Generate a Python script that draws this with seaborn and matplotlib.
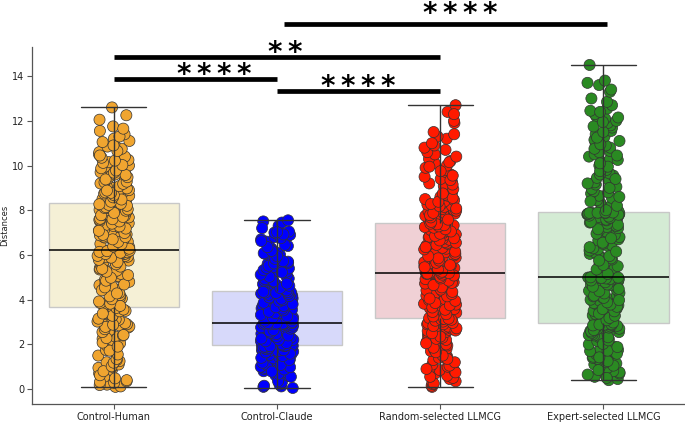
import matplotlib
matplotlib.use("Agg")
import matplotlib.pyplot as plt
import numpy as np
import pandas as pd
import seaborn as sns

# group names as shown on the x axis
groups = ["Control-Human", "Control-Claude", "Random-selected LLMCG", "Expert-selected LLMCG"]

# distances (one list per group, plus a second batch)
control_human = [
    0.1, 0.12, 0.2, 0.28, 0.35, 0.4, 0.5, 0.55, 0.7, 0.85,
    0.95, 1.0, 1.1, 1.2, 1.25, 1.3, 1.5, 1.6, 1.75, 1.8,
    1.95, 2.05, 2.2, 2.25, 2.35, 2.4, 2.5, 2.6, 2.65, 2.75,
    2.8, 2.85, 2.9, 2.95, 3.0, 3.05, 3.1, 3.12, 3.18, 3.2,
    3.25, 3.3, 3.35, 3.4, 3.45, 3.5, 3.55, 3.58, 3.62, 3.65,
    3.7, 3.75, 3.8, 3.85, 3.9, 3.95, 4.0, 4.05, 4.1, 4.2,
    4.25, 4.3, 4.4, 4.45, 4.5, 4.6, 4.65, 4.7, 4.8, 4.9,
    5.0, 5.05, 5.15, 5.2, 5.3, 5.35, 5.4, 5.45, 5.5, 5.55,
    5.6, 5.65, 5.7, 5.75, 5.8, 5.82, 5.85, 5.9, 5.92, 5.95,
    6.0, 6.02, 6.05, 6.08, 6.1, 6.12, 6.15, 6.16, 6.18, 6.2,
    6.22, 6.25, 6.3, 6.35, 6.4, 6.45, 6.5, 6.55, 6.6, 6.62,
    6.68, 6.72, 6.78, 6.82, 6.88, 6.92, 6.95, 7.0, 7.05, 7.1,
    7.15, 7.2, 7.25, 7.3, 7.35, 7.38, 7.42, 7.48, 7.52, 7.58,
    7.62, 7.68, 7.72, 7.75, 7.8, 7.85, 7.9, 7.95, 8.0, 8.02,
    8.05, 8.1, 8.12, 8.15, 8.18, 8.2, 8.22, 8.25, 8.28, 8.3,
    8.35, 8.4, 8.45, 8.5, 8.55, 8.6, 8.65, 8.7, 8.75, 8.8,
    8.85, 8.9, 8.95, 9.0, 9.05, 9.1, 9.15, 9.2, 9.25, 9.3,
    9.35, 9.4, 9.5, 9.55, 9.6, 9.7, 9.75, 9.8, 9.9, 9.95,
    10.0, 10.1, 10.15, 10.25, 10.3, 10.4, 10.5, 10.6, 10.75, 10.85,
    10.95, 11.05, 11.1, 11.2, 11.4, 11.55, 11.75, 12.05, 12.25, 12.6,
]
control_human_b = [
    0.18, 0.32, 0.48, 0.62, 0.8, 1.02, 1.18, 1.35, 1.55, 1.72, 1.9, 2.08, 2.28,
    2.42, 2.55, 2.68, 2.78, 2.88, 3.02, 3.15, 3.28, 3.38, 3.48, 3.56, 3.63,
    3.72, 3.82, 3.92, 4.02, 4.15, 4.28, 4.42, 4.55, 4.68, 4.85, 4.98, 5.1, 5.25,
    5.38, 5.48, 5.58, 5.68, 5.78, 5.88, 5.96, 6.04, 6.1, 6.14, 6.17, 6.19,
    6.28, 6.38, 6.48, 6.58, 6.7, 6.8, 6.9, 6.98, 7.08, 7.18, 7.28, 7.4, 7.5,
    7.6, 7.7, 7.78, 7.88, 7.98, 8.04, 8.1, 8.14, 8.2, 8.24, 8.27, 8.29,
    8.38, 8.48, 8.58, 8.68, 8.78, 8.88, 8.98, 9.08, 9.18, 9.28, 9.38, 9.48, 9.58,
    9.68, 9.78, 9.88, 10.02, 10.12, 10.22, 10.35, 10.45, 10.65, 10.9, 11.3, 11.65,
]
control_claude = [
    0.05, 0.1, 0.12, 0.2, 0.3, 0.42, 0.5, 0.58, 0.62, 0.7,
    0.75, 0.8, 0.86, 0.9, 0.95, 1.0, 1.05, 1.1, 1.15, 1.2,
    1.25, 1.28, 1.32, 1.38, 1.42, 1.45, 1.5, 1.52, 1.55, 1.6,
    1.62, 1.65, 1.68, 1.7, 1.72, 1.75, 1.78, 1.8, 1.82, 1.84,
    1.85, 1.87, 1.88, 1.9, 1.91, 1.92, 1.93, 1.94, 1.95, 1.96,
    1.98, 2.0, 2.02, 2.05, 2.08, 2.1, 2.12, 2.15, 2.18, 2.2,
    2.22, 2.25, 2.28, 2.3, 2.32, 2.35, 2.38, 2.4, 2.42, 2.45,
    2.48, 2.5, 2.52, 2.55, 2.58, 2.6, 2.62, 2.65, 2.68, 2.7,
    2.72, 2.74, 2.76, 2.78, 2.8, 2.82, 2.84, 2.86, 2.88, 2.89,
    2.9, 2.91, 2.92, 2.92, 2.93, 2.93, 2.94, 2.94, 2.95, 2.95,
    2.97, 3.0, 3.02, 3.05, 3.08, 3.1, 3.13, 3.15, 3.18, 3.2,
    3.23, 3.25, 3.28, 3.3, 3.33, 3.36, 3.38, 3.41, 3.44, 3.47,
    3.5, 3.53, 3.55, 3.58, 3.61, 3.64, 3.67, 3.7, 3.72, 3.75,
    3.78, 3.81, 3.84, 3.87, 3.9, 3.93, 3.96, 4.0, 4.03, 4.06,
    4.09, 4.12, 4.15, 4.18, 4.21, 4.24, 4.27, 4.3, 4.33, 4.36,
    4.4, 4.45, 4.5, 4.55, 4.6, 4.65, 4.7, 4.75, 4.8, 4.85,
    4.9, 4.95, 5.0, 5.05, 5.1, 5.15, 5.2, 5.25, 5.3, 5.4,
    5.45, 5.5, 5.6, 5.65, 5.7, 5.8, 5.85, 5.9, 6.0, 6.05,
    6.1, 6.2, 6.25, 6.3, 6.4, 6.5, 6.55, 6.6, 6.7, 6.8,
    6.85, 6.9, 6.95, 7.0, 7.05, 7.1, 7.3, 7.45, 7.5, 7.55,
]
control_claude_b = [
    0.15, 0.35, 0.55, 0.68, 0.78, 0.88, 0.98, 1.08, 1.18, 1.3, 1.4, 1.48, 1.58,
    1.64, 1.7, 1.74, 1.79, 1.83, 1.86, 1.89, 1.9, 1.92, 1.93, 1.94, 1.95,
    2.0, 2.06, 2.14, 2.2, 2.26, 2.33, 2.4, 2.46, 2.52, 2.58, 2.64, 2.7, 2.75,
    2.8, 2.84, 2.87, 2.9, 2.91, 2.92, 2.93, 2.93, 2.94, 2.94, 2.95, 2.95,
    3.0, 3.06, 3.12, 3.2, 3.26, 3.32, 3.4, 3.46, 3.52, 3.6, 3.66, 3.72, 3.8,
    3.86, 3.92, 3.98, 4.04, 4.1, 4.16, 4.22, 4.26, 4.3, 4.32, 4.34, 4.35,
    4.42, 4.52, 4.62, 4.72, 4.82, 4.92, 5.02, 5.12, 5.22, 5.32, 5.42, 5.52, 5.62,
    5.72, 5.82, 5.95, 6.08, 6.18, 6.35, 6.45, 6.62, 6.75, 6.92, 7.02, 7.2,
]
random_llmcg = [
    0.1, 0.15, 0.22, 0.3, 0.35, 0.45, 0.5, 0.6, 0.7, 0.8,
    0.85, 0.95, 1.0, 1.1, 1.15, 1.25, 1.3, 1.4, 1.45, 1.55,
    1.6, 1.7, 1.75, 1.8, 1.9, 1.95, 2.0, 2.1, 2.15, 2.2,
    2.25, 2.3, 2.4, 2.45, 2.5, 2.55, 2.6, 2.65, 2.7, 2.75,
    2.8, 2.85, 2.9, 2.92, 2.95, 3.0, 3.05, 3.08, 3.1, 3.15,
    3.18, 3.22, 3.28, 3.32, 3.38, 3.42, 3.48, 3.52, 3.58, 3.62,
    3.68, 3.72, 3.78, 3.82, 3.88, 3.92, 3.98, 4.02, 4.08, 4.12,
    4.18, 4.22, 4.28, 4.32, 4.38, 4.42, 4.48, 4.52, 4.58, 4.62,
    4.68, 4.72, 4.78, 4.82, 4.88, 4.92, 4.96, 5.0, 5.04, 5.08,
    5.1, 5.12, 5.14, 5.15, 5.16, 5.17, 5.18, 5.19, 5.2, 5.2,
    5.22, 5.28, 5.32, 5.38, 5.42, 5.48, 5.52, 5.58, 5.62, 5.68,
    5.72, 5.78, 5.82, 5.88, 5.92, 5.98, 6.02, 6.08, 6.12, 6.18,
    6.22, 6.28, 6.32, 6.38, 6.42, 6.48, 6.52, 6.58, 6.62, 6.68,
    6.72, 6.78, 6.82, 6.88, 6.92, 6.98, 7.02, 7.08, 7.12, 7.18,
    7.22, 7.25, 7.28, 7.3, 7.32, 7.34, 7.36, 7.38, 7.39, 7.4,
    7.45, 7.5, 7.55, 7.6, 7.65, 7.7, 7.75, 7.8, 7.85, 7.9,
    7.95, 8.0, 8.05, 8.1, 8.15, 8.2, 8.25, 8.3, 8.4, 8.45,
    8.5, 8.6, 8.65, 8.7, 8.8, 8.9, 9.0, 9.1, 9.2, 9.3,
    9.4, 9.5, 9.6, 9.7, 9.8, 9.9, 10.0, 10.1, 10.2, 10.3,
    10.5, 10.6, 10.8, 10.9, 11.2, 11.3, 11.5, 11.9, 12.4, 12.7,
]
random_llmcg_b = [
    0.25, 0.55, 0.75, 0.9, 1.05, 1.2, 1.35, 1.5, 1.65, 1.85, 2.05, 2.25, 2.35,
    2.5, 2.62, 2.72, 2.82, 2.9, 2.96, 3.02, 3.06, 3.1, 3.12, 3.14, 3.15,
    3.25, 3.35, 3.45, 3.55, 3.65, 3.75, 3.85, 3.95, 4.05, 4.15, 4.25, 4.35, 4.45,
    4.55, 4.65, 4.75, 4.85, 4.95, 5.02, 5.08, 5.12, 5.15, 5.17, 5.19, 5.2,
    5.25, 5.35, 5.45, 5.55, 5.65, 5.75, 5.85, 5.95, 6.05, 6.15, 6.25, 6.35, 6.45,
    6.55, 6.65, 6.75, 6.85, 6.95, 7.05, 7.15, 7.22, 7.28, 7.33, 7.37, 7.4,
    7.48, 7.58, 7.68, 7.78, 7.88, 7.98, 8.08, 8.18, 8.28, 8.38, 8.55, 8.75, 8.95,
    9.15, 9.35, 9.55, 9.75, 9.95, 10.15, 10.4, 10.7, 11.0, 11.4, 12.0, 12.3,
]
expert_llmcg = [
    0.4, 0.45, 0.55, 0.6, 0.7, 0.75, 0.8, 0.9, 0.95, 1.0,
    1.1, 1.15, 1.2, 1.3, 1.35, 1.4, 1.45, 1.5, 1.55, 1.6,
    1.65, 1.7, 1.75, 1.8, 1.85, 1.9, 1.95, 2.0, 2.05, 2.1,
    2.15, 2.2, 2.25, 2.3, 2.35, 2.4, 2.45, 2.5, 2.55, 2.6,
    2.62, 2.65, 2.68, 2.7, 2.74, 2.78, 2.8, 2.84, 2.87, 2.9,
    2.95, 3.0, 3.05, 3.1, 3.15, 3.2, 3.25, 3.3, 3.35, 3.4,
    3.45, 3.5, 3.55, 3.6, 3.65, 3.7, 3.75, 3.8, 3.85, 3.9,
    3.95, 4.0, 4.05, 4.1, 4.15, 4.2, 4.25, 4.3, 4.35, 4.4,
    4.45, 4.5, 4.55, 4.6, 4.65, 4.7, 4.75, 4.8, 4.82, 4.85,
    4.88, 4.9, 4.92, 4.94, 4.95, 4.96, 4.97, 4.98, 4.99, 5.0,
    5.05, 5.1, 5.2, 5.25, 5.3, 5.4, 5.45, 5.5, 5.6, 5.65,
    5.7, 5.8, 5.85, 5.9, 6.0, 6.05, 6.1, 6.2, 6.25, 6.3,
    6.4, 6.45, 6.5, 6.6, 6.65, 6.7, 6.8, 6.85, 6.9, 7.0,
    7.05, 7.1, 7.2, 7.25, 7.3, 7.4, 7.45, 7.5, 7.55, 7.6,
    7.65, 7.7, 7.72, 7.75, 7.78, 7.8, 7.82, 7.85, 7.88, 7.9,
    7.95, 8.05, 8.15, 8.25, 8.35, 8.45, 8.55, 8.65, 8.75, 8.85,
    8.95, 9.05, 9.15, 9.25, 9.35, 9.45, 9.55, 9.65, 9.8, 9.9,
    10.0, 10.15, 10.3, 10.4, 10.5, 10.65, 10.8, 10.9, 11.0, 11.15,
    11.3, 11.4, 11.55, 11.7, 11.8, 11.9, 12.0, 12.1, 12.2, 12.3,
    12.45, 12.55, 12.7, 12.85, 13.0, 13.3, 13.4, 13.6, 13.8, 14.5,
]
expert_llmcg_b = [
    0.5, 0.65, 0.85, 1.05, 1.25, 1.42, 1.58, 1.72, 1.88, 2.02, 2.18, 2.32, 2.42,
    2.52, 2.58, 2.64, 2.7, 2.75, 2.8, 2.83, 2.85, 2.87, 2.88, 2.89, 2.9,
    2.98, 3.08, 3.18, 3.28, 3.38, 3.48, 3.58, 3.68, 3.78, 3.88, 3.98, 4.08, 4.18,
    4.28, 4.38, 4.48, 4.58, 4.68, 4.78, 4.86, 4.92, 4.95, 4.97, 4.99, 5.0,
    5.15, 5.35, 5.55, 5.75, 5.95, 6.15, 6.35, 6.55, 6.75, 6.95, 7.15, 7.35, 7.48,
    7.58, 7.66, 7.72, 7.76, 7.8, 7.83, 7.85, 7.87, 7.88, 7.89, 7.9, 7.9,
    8.0, 8.2, 8.4, 8.6, 8.8, 9.0, 9.2, 9.4, 9.6, 9.75, 9.95, 10.1, 10.25,
    10.45, 10.6, 10.75, 10.95, 11.1, 11.25, 11.5, 11.75, 11.95, 12.15, 12.4, 13.7,
]

# significance brackets: (left group, right group, label)
brackets = [
    (0, 1, "****"),
    (0, 2, "**"),
    (1, 2, "****"),
    (1, 3, "****"),
]

box_colors = ["#f5f0d6", "#d7d9fa", "#f0d0d5", "#d4ebd4"]
point_colors = ["#f0a530", "#0000ff", "#ff1a00", "#2a8a22"]

all_values = [control_human + control_human_b, control_claude + control_claude_b,
              random_llmcg + random_llmcg_b, expert_llmcg + expert_llmcg_b]
df = pd.concat([
    pd.DataFrame({"group": name, "distance": vals})
    for name, vals in zip(groups, all_values)
], ignore_index=True)

sns.set_style("white")
np.random.seed(3)

fig = plt.figure(figsize=(6.85, 4.24), dpi=100)
ax = fig.add_axes([0.047, 0.047, 0.953, 0.842])

sns.boxplot(data=df, x="group", y="distance", hue="group", palette=box_colors,
            legend=False, showfliers=False, width=0.8, saturation=1, linewidth=1,
            boxprops=dict(edgecolor="#c8c8c8"), whiskerprops=dict(color="#333333"),
            capprops=dict(color="#333333"), medianprops=dict(color="black", linewidth=1.1),
            ax=ax)
# boxes behind the points, whiskers and medians on top
for p in ax.patches:
    p.set_zorder(0.5)

sns.stripplot(data=df, x="group", y="distance", hue="group", palette=point_colors,
              legend=False, jitter=0.1, size=8, edgecolor="#333333", linewidth=0.5,
              ax=ax, zorder=1.5)

# bracket heights and label spots
bar_y = [13.86, 14.85, 13.33, 16.32]
bar_x = [(0, 1), (0, 2), (1, 2), (1.04, 3.02)]
label_x = [0.615, 1.05, 1.5, 2.12]
label_y = [13.68, 14.69, 13.15, 16.42]
for (x1, x2), yb, lx, ly, (_, _, lab) in zip(bar_x, bar_y, label_x, label_y, brackets):
    ax.plot([x1, x2], [yb, yb], color="black", lw=3.4, solid_capstyle="butt", clip_on=False)
    ax.text(lx, ly, "\u2009".join(lab), ha="center", va="baseline", fontsize=20,
            fontweight="bold", color="black", clip_on=False)

ax.set_ylim(-0.67, 15.3)
ax.set_xlim(-0.5, 3.5)
ax.set_yticks([0, 2, 4, 6, 8, 10, 12, 14])
ax.set_xlabel("")
ax.set_ylabel("Distances", fontsize=6, labelpad=2, color="#222222")
ax.tick_params(axis="both", labelsize=7, length=3.5, width=0.8, color="#555555",
               labelcolor="#222222", left=True, bottom=True, pad=2)
sns.despine(ax=ax)
for s in ["left", "bottom"]:
    ax.spines[s].set_color("#555555")
    ax.spines[s].set_linewidth(0.9)

fig.savefig("out.png", dpi=100)
